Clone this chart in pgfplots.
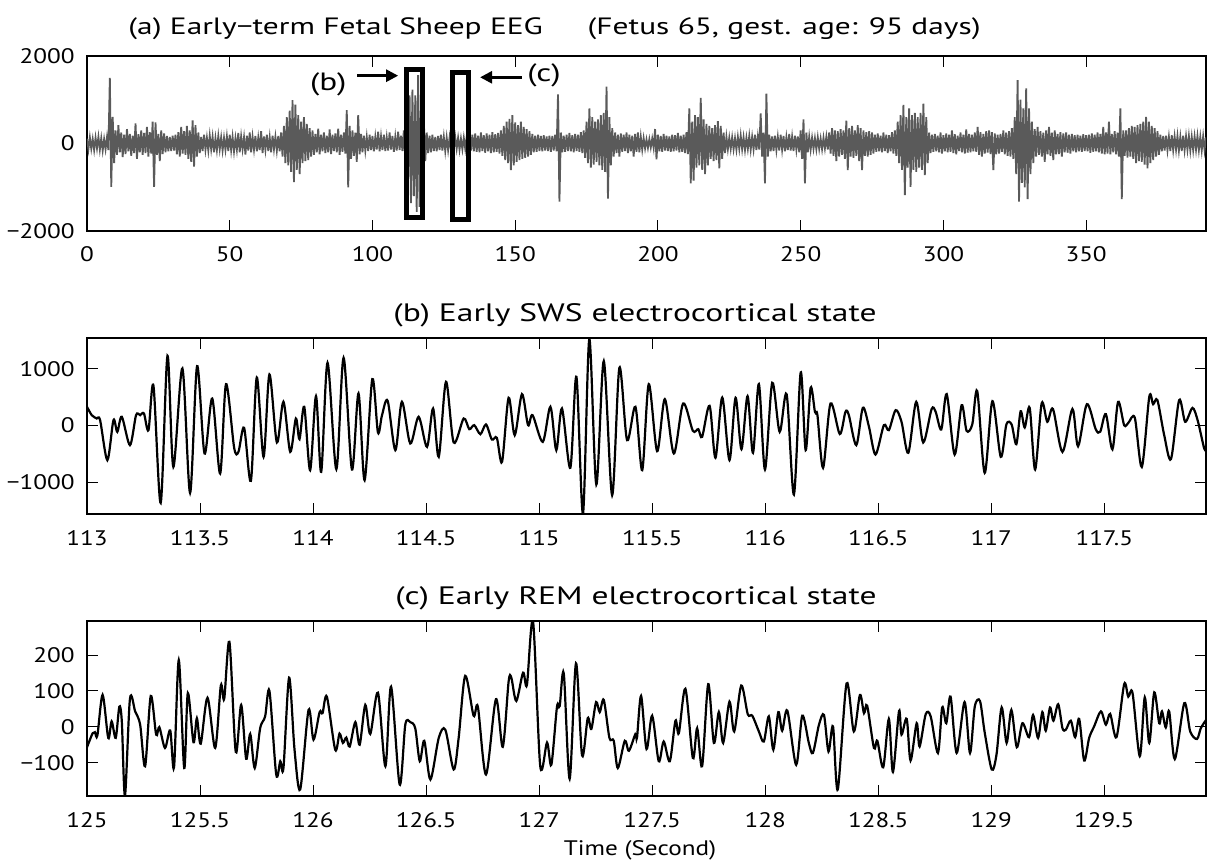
\documentclass[border=0pt]{standalone}
\usepackage{fontspec}
\setmainfont{PT Sans}[FakeStretch=1.2]
\newfontfamily\titlefont{PT Sans}[FakeStretch=1.33]
\usepackage{pgfplots}
\pgfplotsset{compat=1.18}
\usetikzlibrary{arrows.meta}

\definecolor{eeggray}{RGB}{90,90,90}

\pgfplotsset{
  eegaxis/.style={
    scale only axis,
    width=559.5pt,
    anchor=south west,
    axis line style={line width=1pt},
    every tick/.style={black, line width=0.5pt},
    major tick length=5.5pt,
    tick align=inside,
    tick pos=both,
    xticklabel pos=lower,
    yticklabel pos=left,
    xticklabel style={anchor=base, yshift=-15.5pt, inner sep=0pt},
    yticklabel style={anchor=east, xshift=-6pt, inner sep=0pt},
  },
}
\newcommand{\ttl}{\titlefont\fontsize{11.8}{14}\selectfont}
\newcommand{\ttlb}{\titlefont\fontsize{12.6}{15}\selectfont}

\begin{document}
\fontsize{10.5}{12.6}\selectfont
\begin{tikzpicture}
\useasboundingbox (0,0) rectangle (606.5pt,431.5pt);

% ---------------- (a) whole recording ----------------
\begin{axis}[eegaxis,
  at={(43.5pt,316pt)}, height=87.5pt,
  xmin=0, xmax=392, ymin=-2000, ymax=2000,
  xtick={0,50,100,150,200,250,300,350},
  xticklabels={0,50,100,150,200,250,300,350},
  ytick={-2000,0,2000},
  yticklabels={−2000,0,2000},
]
\addplot[eeggray, line width=0.9pt] coordinates {
(0,110)(0.5,-130)(1,140)(1.5,-120)(2,100)(2.5,-150)(3,130)(3.5,-110)(4,150)(4.5,-140)(5,120)(5.5,-160)(6,100)(6.5,-130)(7,140)(7.5,-150)
(8,1500)(8.5,-990)(9,610)(9.5,-450)
(10,300)(10.5,-260)(11,420)(11.5,-200)(12,250)(12.5,-310)(13,200)(13.5,-240)(14,330)(14.5,-180)(15,220)(15.5,-280)(16,180)(16.5,-220)(17,460)(17.5,-350)(18,210)(18.5,-200)(19,300)(19.5,-260)
(20,240)(20.5,-220)(21,380)(21.5,-300)(22,260)(22.5,-230)(23,500)(23.5,-990)(24,480)(24.5,-260)(25,220)(25.5,-400)(26,300)(26.5,-240)(27,230)(27.5,-200)(28,170)(28.5,-180)(29,150)(29.5,-170)
(30,180)(30.5,-160)(31,200)(31.5,-250)(32,260)(32.5,-300)(33,380)(33.5,-230)(34,280)(34.5,-260)(35,400)(35.5,-350)(36,300)(36.5,-420)(37,530)(37.5,-530)(38,420)(38.5,-300)(39,250)(39.5,-220)
(40,150)(40.5,-170)(41,200)(41.5,-140)(42,130)(42.5,-160)(43,180)(43.5,-130)(44,150)(44.5,-200)(45,120)(45.5,-150)(46,170)(46.5,-130)(47,140)(47.5,-160)(48,130)(48.5,-140)(49,160)(49.5,-170)
(50,200)(50.5,-150)(51,150)(51.5,-180)(52,120)(52.5,-140)(53,240)(53.5,-200)(54,160)(54.5,-130)(55,140)(55.5,-250)(56,180)(56.5,-160)(57,250)(57.5,-200)(58,150)(58.5,-140)(59,170)(59.5,-180)
(60,130)(60.5,-150)(61,280)(61.5,-220)(62,160)(62.5,-140)(63,200)(63.5,-170)(64,140)(64.5,-200)(65,180)(65.5,-130)(66,150)(66.5,-160)(67,170)(67.5,-180)
(68,250)(68.5,-300)(69,400)(69.5,-450)(70,600)(70.5,-500)(71,750)(71.5,-650)(72,990)(72.5,-880)(73,890)(73.5,-600)(74,650)(74.5,-700)(75,500)(75.5,-450)(76,600)(76.5,-400)(77,450)(77.5,-380)(78,350)(78.5,-300)(79,300)(79.5,-260)
(80,220)(80.5,-200)(81,340)(81.5,-250)(82,200)(82.5,-180)(83,250)(83.5,-220)(84,180)(84.5,-200)(85,320)(85.5,-240)(86,200)(86.5,-170)(87,230)(87.5,-200)(88,340)(88.5,-260)(89,200)(89.5,-190)(90,250)(90.5,-230)
(91,760)(91.5,-1000)(92,400)(92.5,-350)(93,300)(93.5,-280)(94,250)(94.5,-420)(95,650)(95.5,-250)(96,220)(96.5,-200)(97,180)(97.5,-160)(98,150)(98.5,-170)(99,200)(99.5,-150)
(100,170)(100.5,-180)(101,150)(101.5,-140)(102,270)(102.5,-180)(103,160)(103.5,-150)(104,200)(104.5,-170)(105,140)(105.5,-160)(106,250)(106.5,-140)(107,170)(107.5,-190)(108,150)(108.5,-160)(109,270)(109.5,-150)(110,180)(110.5,-170)
(111,300)(111.5,-350)(112,600)(112.5,-800)(113,1100)(113.5,-1360)(114,1230)(114.5,-1200)(115,1100)(115.5,-1560)(116,1560)(116.5,-1450)(117,900)(117.5,-700)(118,500)(118.5,-400)
(119,250)(119.5,-220)(120,180)(120.5,-200)(121,200)(121.5,-170)(122,150)(122.5,-180)(123,170)(123.5,-150)(124,200)(124.5,-160)(125,150)(125.5,-170)(126,140)(126.5,-150)(127,130)(127.5,-140)(128,120)(128.5,-130)(129,140)(129.5,-120)
(130,130)(130.5,-140)(131,110)(131.5,-130)(132,130)(132.5,-120)(133,140)(133.5,-150)(134,170)(134.5,-160)(135,200)(135.5,-180)(136,230)(136.5,-190)(137,180)(137.5,-200)(138,250)(138.5,-170)(139,190)(139.5,-210)
(140,230)(140.5,-180)(141,200)(141.5,-220)(142,260)(142.5,-200)(143,210)(143.5,-190)(144,240)(144.5,-230)
(145,300)(145.5,-280)(146,400)(146.5,-380)(147,500)(147.5,-450)(148,560)(148.5,-610)(149,650)(149.5,-500)(150,480)(150.5,-420)(151,420)(151.5,-380)(152,500)(152.5,-350)(153,380)(153.5,-330)(154,330)(154.5,-300)(155,280)(155.5,-260)
(156,220)(156.5,-200)(157,180)(157.5,-190)(158,200)(158.5,-170)(159,170)(159.5,-180)(160,190)(160.5,-160)(161,160)(161.5,-170)(162,180)(162.5,-190)(163,170)(163.5,-160)(164,200)(164.5,-180)
(165,1120)(165.5,-1330)(166,250)(166.5,-200)(167,180)(167.5,-190)(168,200)(168.5,-170)(169,240)(169.5,-180)(170,190)(170.5,-200)(171,220)(171.5,-170)(172,200)(172.5,-190)(173,260)(173.5,-220)
(174,300)(174.5,-330)(175,500)(175.5,-450)(176,800)(176.5,-550)(177,600)(177.5,-480)(178,500)(178.5,-420)(179,550)(179.5,-500)(180,650)(180.5,-600)(181,700)(181.5,-650)(182,1300)(182.5,-1260)(183,600)(183.5,-500)
(184,350)(184.5,-300)(185,250)(185.5,-220)(186,200)(186.5,-300)(187,230)(187.5,-190)(188,200)(188.5,-170)(189,250)(189.5,-220)(190,200)(190.5,-180)(191,180)(191.5,-300)(192,220)(192.5,-190)(193,250)(193.5,-200)(194,150)(194.5,-140)(195,120)(195.5,-110)
(196,90)(196.5,-100)(197,100)(197.5,-90)(198,110)(198.5,-100)(199,330)(199.5,-360)
(200,200)(200.5,-180)(201,170)(201.5,-190)(202,220)(202.5,-160)(203,180)(203.5,-170)(204,160)(204.5,-190)(205,200)(205.5,-180)(206,190)(206.5,-160)(207,240)(207.5,-200)(208,180)(208.5,-190)(209,200)(209.5,-220)(210,260)(210.5,-240)
(211,800)(211.5,-910)(212,500)(212.5,-850)(213,650)(213.5,-550)(214,600)(214.5,-500)(215,1040)(215.5,-600)(216,550)(216.5,-700)(217,450)(217.5,-500)(218,400)(218.5,-350)(219,350)(219.5,-400)(220,420)(220.5,-380)(221,510)(221.5,-570)(222,400)(222.5,-350)(223,250)(223.5,-220)
(224,150)(224.5,-130)(225,130)(225.5,-120)(226,140)(226.5,-130)(227,120)(227.5,-140)(228,150)(228.5,-120)(229,180)(229.5,-130)(230,140)(230.5,-150)(231,130)(231.5,-120)(232,170)(232.5,-140)(233,150)(233.5,-130)(234,200)(234.5,-150)(235,160)(235.5,-140)
(236,690)(236.5,-300)(237,250)(237.5,-910)(238,1140)(238.5,-300)
(239,200)(239.5,-180)(240,160)(240.5,-170)(241,180)(241.5,-150)(242,150)(242.5,-160)(243,200)(243.5,-140)(244,170)(244.5,-180)(245,140)(245.5,-150)(246,220)(246.5,-160)(247,150)(247.5,-170)(248,180)(248.5,-140)(249,160)(249.5,-200)(250,300)(250.5,-350)
(251,550)(251.5,-910)(252,250)(252.5,-200)(253,150)(253.5,-140)(254,130)(254.5,-120)(255,120)(255.5,-130)(256,140)(256.5,-120)(257,110)(257.5,-130)(258,130)(258.5,-110)(259,150)(259.5,-140)
(260,250)(260.5,-230)(261,350)(261.5,-280)(262,300)(262.5,-400)(263,280)(263.5,-300)(264,330)(264.5,-260)(265,300)(265.5,-350)(266,520)(266.5,-610)(267,350)(267.5,-300)(268,400)(268.5,-330)(269,300)(269.5,-280)
(270,420)(270.5,-400)(271,350)(271.5,-610)(272,300)(272.5,-280)(273,260)(273.5,-300)(274,280)(274.5,-260)(275,250)(275.5,-230)
(276,200)(276.5,-190)(277,230)(277.5,-180)(278,180)(278.5,-200)(279,250)(279.5,-170)(280,200)(280.5,-220)(281,190)(281.5,-180)(282,260)(282.5,-230)(283,300)(283.5,-280)
(284,500)(284.5,-450)(285,650)(285.5,-600)(286,880)(286.5,-1180)(287,600)(287.5,-550)(288,800)(288.5,-990)(289,650)(289.5,-600)(290,700)(290.5,-650)(291,600)(291.5,-550)(292,700)(292.5,-600)(293,910)(293.5,-720)(294,600)(294.5,-450)
(295,250)(295.5,-220)(296,200)(296.5,-190)(297,220)(297.5,-180)(298,180)(298.5,-200)(299,250)(299.5,-230)
(300,190)(300.5,-180)(301,230)(301.5,-200)(302,200)(302.5,-190)(303,300)(303.5,-220)(304,210)(304.5,-250)(305,180)(305.5,-170)(306,250)(306.5,-200)(307,200)(307.5,-230)(308,320)(308.5,-210)(309,220)(309.5,-200)
(310,200)(310.5,-180)(311,250)(311.5,-190)(312,380)(312.5,-260)(313,260)(313.5,-300)(314,220)(314.5,-230)(315,280)(315.5,-210)(316,300)(316.5,-240)(317,260)(317.5,-610)(318,230)(318.5,-250)(319,200)(319.5,-230)
(320,220)(320.5,-190)(321,300)(321.5,-250)(322,250)(322.5,-280)(323,280)(323.5,-300)(324,350)(324.5,-350)
(325,600)(325.5,-700)(326,1450)(326.5,-1330)(327,1000)(327.5,-900)(328,800)(328.5,-1000)(329,1260)(329.5,-1270)(330,800)(330.5,-700)(331,500)(331.5,-450)
(332,330)(332.5,-300)(333,380)(333.5,-260)(334,280)(334.5,-300)(335,250)(335.5,-420)(336,300)(336.5,-250)(337,380)(337.5,-280)(338,250)(338.5,-380)(339,300)(339.5,-250)
(340,220)(340.5,-240)(341,260)(341.5,-300)(342,230)(342.5,-200)(343,250)(343.5,-210)(344,200)(344.5,-230)(345,220)(345.5,-180)(346,190)(346.5,-200)(347,200)(347.5,-180)(348,180)(348.5,-190)(349,210)(349.5,-170)
(350,190)(350.5,-180)(351,200)(351.5,-210)(352,230)(352.5,-190)(353,200)(353.5,-180)(354,250)(354.5,-200)(355,220)(355.5,-230)(356,380)(356.5,-250)(357,250)(357.5,-230)
(358,500)(358.5,-250)(359,220)(359.5,-200)(360,280)(360.5,-250)(361,250)(361.5,-300)(362,800)(362.5,-1270)(363,300)(363.5,-280)
(364,300)(364.5,-320)(365,350)(365.5,-300)(366,400)(366.5,-350)(367,380)(367.5,-450)(368,420)(368.5,-400)(369,450)(369.5,-420)(370,500)(370.5,-480)(371,610)(371.5,-570)(372,500)(372.5,-450)(373,400)(373.5,-380)(374,350)(374.5,-300)(375,280)(375.5,-260)
(376,200)(376.5,-180)(377,170)(377.5,-160)(378,180)(378.5,-150)(379,150)(379.5,-170)(380,190)(380.5,-150)(381,160)(381.5,-140)(382,170)(382.5,-160)(383,150)(383.5,-170)(384,180)(384.5,-150)(385,160)(385.5,-140)
(386,170)(386.5,-160)(387,150)(387.5,-150)(388,160)(388.5,-140)(389,170)(389.5,-150)(390,150)(390.5,-160)(391,160)(391.5,-150)(392,140)
};
% windows shown in (b) and (c)
\draw[line width=2.5pt] (axis cs:111.9,-1690) rectangle (axis cs:117.7,1680);
\draw[line width=2.5pt] (axis cs:128.1,-1726) rectangle (axis cs:133.8,1623);
\draw[line width=1.3pt, -{Triangle[length=6pt, width=6pt]}] (axis cs:94.6,1550) -- (axis cs:109.0,1550);
\draw[line width=1.3pt, -{Triangle[length=6pt, width=6pt]}] (axis cs:152.3,1513) -- (axis cs:137.7,1513);
\node[inner sep=0pt, font=\titlefont\fontsize{12.5}{14}\selectfont] at (axis cs:84.5,1349) {(b)};
\node[inner sep=0pt, font=\titlefont\fontsize{12.5}{14}\selectfont] at (axis cs:160.1,1554) {(c)};
\end{axis}

% ---------------- (b) SWS segment ----------------
\begin{axis}[eegaxis,
  at={(43.5pt,174.5pt)}, height=88pt,
  xmin=113, xmax=117.95, ymin=-1558, ymax=1540,
  xtick={113,113.5,114,114.5,115,115.5,116,116.5,117,117.5},
  xticklabels={113,113.5,114,114.5,115,115.5,116,116.5,117,117.5},
  ytick={-1000,0,1000},
  yticklabels={−1000,0,1000},
]
\addplot[black, line width=1.1pt, smooth, tension=0.5] coordinates {
(113.000,329)(113.021,182)(113.043,123)(113.058,94)(113.090,-610)(113.117,94)(113.134,-112)(113.154,153)(113.190,-346)(113.217,182)(113.235,182)(113.252,211)(113.272,-82)(113.294,699)(113.326,-1362)(113.356,1227)(113.382,-728)(113.422,1004)(113.456,-1186)(113.487,1045)(113.520,-493)(113.554,475)(113.589,-845)(113.615,728)(113.651,-393)(113.670,-464)(113.695,-41)(113.725,-974)(113.751,845)(113.781,-552)(113.807,898)(113.840,-299)(113.869,417)(113.899,-464)(113.924,123)(113.940,-241)(113.961,329)(113.987,-787)(114.013,517)(114.036,-816)(114.064,1104)(114.103,-769)(114.135,1192)(114.172,-775)(114.201,564)(114.228,-963)(114.262,816)(114.287,-123)(114.305,182)(114.330,434)(114.364,-434)(114.393,417)(114.430,-317)(114.467,153)(114.504,-376)(114.531,299)(114.556,-552)(114.588,769)(114.622,-299)
(114.666,123)(114.691,-65)(114.713,6)(114.740,-153)(114.765,18)(114.791,-247)(114.813,-217)(114.836,-640)(114.865,487)(114.892,-170)(114.924,552)(114.951,6)(114.971,182)(115.016,-288)(115.050,329)(115.076,-434)(115.101,299)(115.138,-745)(115.165,857)(115.194,-1550)(115.222,1520)(115.253,-1039)(115.286,1133)(115.323,-1227)(115.355,1016)(115.389,-258)(115.426,329)(115.456,-787)(115.485,728)(115.522,-452)(115.556,464)(115.596,-493)(115.637,387)(115.680,-94)(115.704,-65)(115.721,-200)(115.754,346)(115.780,-569)(115.810,493)(115.842,-610)(115.869,487)(115.895,-417)(115.922,517)(115.946,-481)(115.972,728)(115.999,-775)(116.031,751)(116.064,-112)(116.095,546)(116.127,-1215)(116.157,933)(116.179,-434)(116.201,663)(116.220,241)(116.231,182)(116.256,-745)(116.289,387)
(116.330,-150)(116.355,240)(116.370,182)(116.403,-346)(116.432,311)(116.459,-23)(116.488,-511)(116.525,6)(116.547,-82)(116.577,270)(116.603,65)(116.633,-481)(116.668,417)(116.699,-299)(116.736,288)(116.754,241)(116.779,-70)(116.803,552)(116.838,-511)(116.869,358)(116.891,-95)(116.916,18)(116.938,605)(116.971,-834)(117.005,428)(117.042,-552)(117.067,20)(117.090,18)(117.111,-330)(117.130,250)(117.148,-35)(117.170,310)(117.194,-775)(117.223,390)(117.248,65)(117.273,290)(117.315,-465)(117.359,290)(117.384,-365)(117.423,375)(117.462,-65)(117.482,-110)(117.507,200)(117.536,-420)(117.561,415)(117.588,5)(117.607,50)(117.635,135)(117.666,-730)(117.699,505)(117.716,375)(117.735,445)(117.765,-170)(117.795,-590)(117.831,445)(117.858,65)(117.890,310)(117.913,90)(117.942,-405)(117.950,-380)
};
\end{axis}

% ---------------- (c) REM segment ----------------
\begin{axis}[eegaxis,
  at={(43.5pt,33.5pt)}, height=87.5pt,
  xmin=125, xmax=129.95, ymin=-193, ymax=295,
  xtick={125,125.5,126,126.5,127,127.5,128,128.5,129,129.5},
  xticklabels={125,125.5,126,126.5,127,127.5,128,128.5,129,129.5},
  ytick={-100,0,100,200},
  yticklabels={−100,0,100,200},
]
\addplot[black, line width=1.1pt, smooth, tension=0.5] coordinates {
(125.000,-57)(125.013,-36)(125.025,-18)(125.035,-15)(125.046,-24)(125.069,89)(125.094,-31)(125.109,15)(125.127,-31)(125.143,56)(125.154,15)(125.168,-192)(125.190,78)(125.213,43)(125.235,6)(125.257,-110)(125.282,86)(125.306,-22)(125.320,-1)(125.345,-59)(125.368,-10)(125.385,-113)(125.406,186)(125.430,-115)(125.446,94)(125.471,-43)(125.486,24)(125.503,-47)(125.533,81)(125.567,-59)(125.592,115)(125.607,78)(125.630,237)(125.658,-70)(125.682,61)(125.704,-89)(125.722,-20)(125.742,-115)(125.766,-4)(125.788,29)(125.807,100)(125.837,-133)(125.855,-96)(125.869,-115)(125.894,137)(125.918,-64)(125.943,-175)(125.980,47)(126.002,-36)(126.029,41)(126.042,38)(126.061,84)(126.098,-64)(126.117,-19)(126.132,-45)(126.147,-30)(126.162,-55)(126.187,13)(126.206,-50)(126.231,61)(126.253,-20)(126.287,95)(126.320,-110)(126.345,112)(126.383,-161)(126.408,6)(126.430,13)(126.452,-4)(126.472,-96)(126.492,-39)(126.519,-147)(126.556,-31)(126.585,-8)(126.622,-119)
(126.644,-31)(126.673,142)(126.710,31)(126.729,56)(126.765,-133)(126.809,77)(126.839,-56)(126.865,126)(126.877,137)(126.899,72)(126.929,151)(126.946,117)(126.973,294)(127.005,-110)(127.035,-44)(127.054,-106)(127.079,56)(127.091,58)(127.109,149)(127.135,-145)(127.163,177)(127.190,-80)(127.215,24)(127.231,-6)(127.252,69)(127.268,41)(127.286,75)(127.311,-31)(127.330,-39)(127.348,-115)(127.379,-39)(127.397,-67)(127.426,-20)(127.433,-30)(127.451,86)(127.475,-62)(127.500,31)(127.529,-96)(127.551,-41)(127.578,-96)(127.603,17)(127.618,-18)(127.647,106)(127.680,-87)(127.699,-4)(127.721,-110)(127.748,119)(127.773,-45)(127.795,41)(127.814,-45)(127.842,70)(127.863,-13)(127.894,115)(127.923,35)(127.943,31)(127.972,-13)(127.994,-41)(128.016,29)(128.036,-64)(128.058,41)(128.075,-11)(128.098,45)(128.137,-106)(128.164,31)(128.193,-45)(128.211,-73)(128.238,6)(128.260,33)(128.280,-69)
(128.300,1)(128.321,-175)(128.360,121)(128.392,-13)(128.419,89)(128.437,38)(128.451,59)(128.481,-59)(128.496,-39)(128.522,-113)(128.547,22)(128.565,-126)(128.592,44)(128.603,-22)(128.626,22)(128.643,-94)(128.670,10)(128.683,-55)(128.710,35)(128.732,29)(128.764,-73)(128.783,54)(128.801,10)(128.820,84)(128.847,-73)(128.882,69)(128.906,-73)(128.927,56)(128.950,72)(128.971,-16)(129.002,-119)(129.023,-78)(129.046,54)(129.068,-45)(129.089,47)(129.113,-57)(129.138,10)(129.167,-29)(129.185,33)(129.207,-31)(129.226,41)(129.241,-11)(129.260,54)(129.275,17)(129.296,63)(129.315,-4)(129.330,-8)(129.352,17)(129.371,-29)(129.389,22)(129.411,-94)(129.433,-31)(129.455,1)(129.485,43)(129.507,6)(129.526,36)(129.554,-29)(129.588,119)(129.606,84)(129.625,94)(129.657,-82)(129.679,82)(129.699,-45)(129.721,96)(129.743,10)(129.755,43)(129.772,-2)(129.787,43)(129.812,-90)(129.854,66)(129.880,-13)(129.910,-34)(129.927,-4)(129.950,19)
};
\end{axis}

% titles and common x label
\node[anchor=base west, inner sep=0pt] at (64pt,414.25pt) {\ttl (a) Early−term Fetal Sheep EEG};
\node[anchor=base east, inner sep=0pt] at (490.5pt,414.25pt) {\ttl (Fetus 65, gest. age: 95 days)};
\node[anchor=base, inner sep=0pt] at (317.5pt,270.5pt) {\ttlb (b) Early SWS electrocortical state};
\node[anchor=base, inner sep=0pt] at (318pt,129.5pt) {\ttlb (c) Early REM electrocortical state};
\node[anchor=base, inner sep=0pt] at (320pt,4pt) {Time (Second)};
\end{tikzpicture}
\end{document}
